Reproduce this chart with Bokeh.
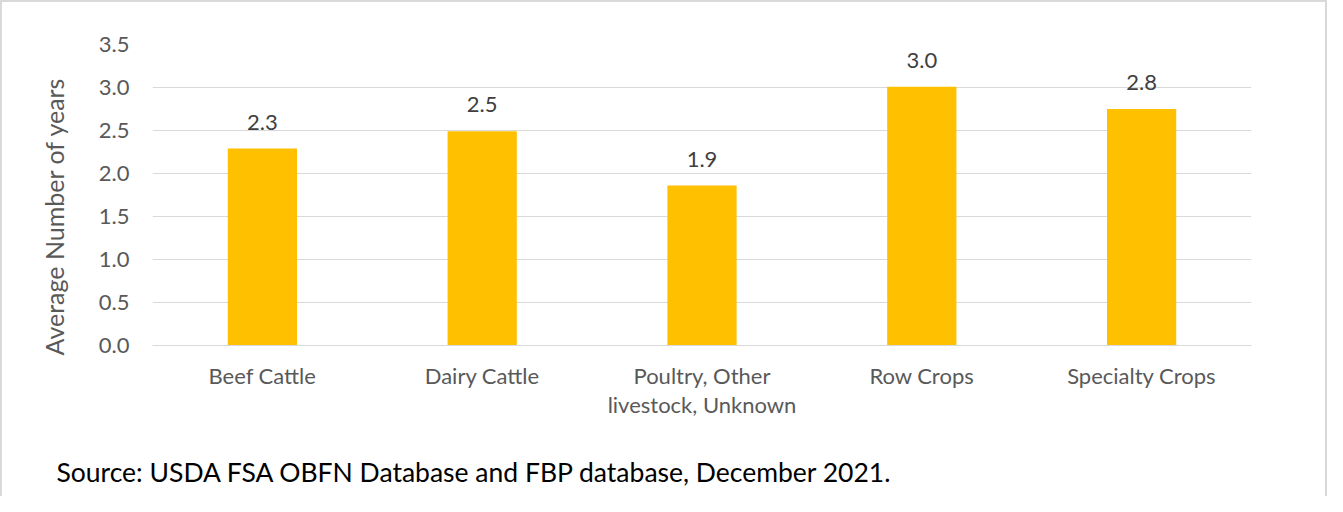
from bokeh.plotting import figure
from bokeh.models import ColumnDataSource, LabelSet, Title, Range1d, FixedTicker, CustomJSTickFormatter
from bokeh.embed import file_html
from bokeh.resources import INLINE
from bokeh.core.properties import value

categories = ["Beef Cattle", "Dairy Cattle", "Poultry, Other\nlivestock, Unknown", "Row Crops", "Specialty Crops"]
years = [2.29, 2.49, 1.86, 3.01, 2.75]
labels = ["2.3", "2.5", "1.9", "3.0", "2.8"]
y_ticks = [0.0, 0.5, 1.0, 1.5, 2.0, 2.5, 3.0, 3.5]
source_note = "Source: USDA FSA OBFN Database and FBP database, December 2021."
y_title = "Average Number of years"

FONT = "Lato"

src = ColumnDataSource(dict(cat=categories, val=years, lab=labels))

p = figure(x_range=categories, y_range=Range1d(0, 3.5),
           width=1327, height=496, output_backend="svg", toolbar_location=None,
           min_border_left=150, min_border_right=78, min_border_top=42, min_border_bottom=153)

p.vbar(x="cat", top="val", width=0.315, source=src, fill_color="#FFC000", line_color=None)

p.add_layout(LabelSet(x="cat", y="val", text="lab", source=src, text_align="center",
                      text_baseline="alphabetic", y_offset=19, text_font=value(FONT),
                      text_font_size="22px", text_color="#404040"))

p.outline_line_color = None
p.xgrid.grid_line_color = None
p.ygrid.grid_line_color = "#d9d9d9"
p.ygrid.grid_line_width = 1

p.yaxis.ticker = FixedTicker(ticks=y_ticks)
p.yaxis.formatter = CustomJSTickFormatter(code="return tick.toFixed(1);")
p.yaxis.axis_line_color = None
p.yaxis.major_tick_line_color = None
p.yaxis.minor_tick_line_color = None
p.yaxis.major_label_standoff = 17
p.yaxis.major_label_text_font = FONT
p.yaxis.major_label_text_font_size = "22px"
p.yaxis.major_label_text_color = "#595959"

p.xaxis.axis_line_color = "#d9d9d9"
p.xaxis.axis_line_width = 1
p.xaxis.major_tick_line_color = None
p.xaxis.minor_tick_line_color = None
p.xaxis.major_label_standoff = 10
p.xaxis.major_label_text_font = FONT
p.xaxis.major_label_text_font_size = "22px"
p.xaxis.major_label_text_color = "#595959"
p.xaxis.major_label_text_line_height = 1.1
p.xaxis.major_label_orientation = "horizontal"

# y-axis title
p.add_layout(Title(text=y_title, align="left", offset=-10, standoff=54,
                   text_font=FONT, text_font_size="25px", text_font_style="normal",
                   text_color="#595959"), "left")

# source note below the chart (leading blank line sets the gap under the axis)
p.add_layout(Title(text="\n" + source_note, align="left", offset=-96, standoff=0,
                   text_font=FONT, text_font_size="26.5px", text_font_style="normal",
                   text_color="#000000"), "below")

p.styles = {"border-left": "2px solid #d9d9d9", "border-top": "2px solid #d9d9d9",
            "border-right": "2px solid #d9d9d9", "box-sizing": "border-box"}

open("out.html", "w").write(file_html(p, INLINE))
